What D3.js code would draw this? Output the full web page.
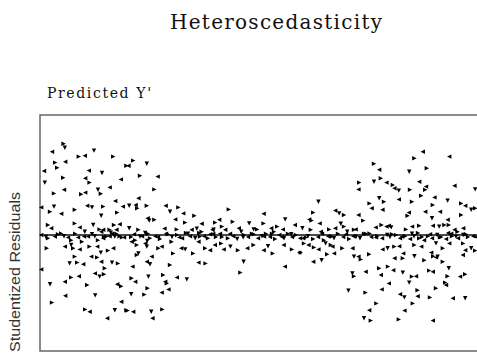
<!DOCTYPE html>
<html>
<head>
<meta charset="utf-8">
<script src="https://cdn.jsdelivr.net/npm/d3@7"></script>
<style>
body{margin:0;background:#fff;}
svg{display:block;}
</style>
</head>
<body>
<svg id="chart"></svg>
<script>
var width = 477, height = 353;
var titleText = "Heteroscedasticity";
var xLabel = "Predicted Y'";
var yLabel = "Studentized Residuals";

// predicted values (x) and studentized residuals (y)
var predY = [
5.9,3.0,6.2,3.8,6.3,9.7,11.2,13.5,18.3,1.0,4.3,12.2,15.5,5.8,11.3,12.4,20.2,1.2,3.5,6.0,10.3,11.3,14.5,15.2,17.4,21.6,
0.3,3.5,2.5,5.3,8.7,11.8,13.0,15.8,18.8,19.3,20.7,15.3,2.0,2.8,8.7,9.9,13.3,14.9,15.8,18.5,19.9,11.2,17.4,19.1,
2.0,3.7,6.0,7.8,9.5,10.5,12.0,13.7,14.5,15.8,16.6,17.4,18.7,19.9,21.0,5.3,15.3,17.7,19.1,0.3,
1.7,6.2,7.8,8.3,9.9,12.4,14.3,15.2,17.0,18.3,8.7,12.8,7.4,9.3,10.8,14.3,15.3,18.0,19.5,0.3,16.2,13.7,14.9,16.0,
6.2,7.8,9.7,2.5,11.8,19.3,20.3,6.3,13.8,3.0,20.3,11.3,12.4,18.7,21.6,16.8,
23.3,22.1,26.7,25.0,29.4,28.6,24.6,22.3,24.3,23.9,26.7,31.4,32.5,34.6,35.8,38.6,26.9,27.3,28.6,33.8,36.3,40.4,
22.3,24.6,31.1,34.2,37.9,39.2,40.4,43.1,
22.8,25.5,26.3,27.5,28.8,30.0,31.5,33.0,34.3,35.5,36.5,37.5,38.8,39.8,41.0,42.0,43.3,26.8,23.8,
22.9,24.2,26.3,26.7,29.6,30.4,32.9,35.3,36.3,38.3,39.6,41.3,42.5,24.6,24.2,27.9,33.3,26.7,27.5,32.5,39.6,41.4,
23.1,27.1,30.8,31.3,31.7,34.2,36.7,22.9,23.8,26.9,32.1,22.8,26.1,30.4,21.9,23.3,27.8,30.6,28.1,
47.2,55.9,61.3,43.8,44.8,48.2,49.7,52.3,55.9,63.7,45.5,46.3,53.4,54.3,57.8,59.3,60.7,43.4,
44.0,45.0,47.0,48.3,49.3,51.0,52.0,53.0,54.5,55.5,56.5,57.5,58.8,59.8,61.0,62.0,63.0,64.0,65.0,50.3,58.5,
43.7,45.3,45.9,47.6,49.5,51.8,53.4,55.9,57.0,58.2,60.9,63.0,64.8,50.9,50.1,61.2,
83.5,84.8,83.5,85.2,86.6,79.8,79.6,84.8,86.0,85.6,82.4,82.9,69.6,68.3,67.3,67.9,73.8,74.8,76.0,79.6,80.8,
69.9,75.2,76.0,83.9,85.4,86.6,65.6,67.7,70.2,72.3,73.8,76.8,78.5,78.9,82.4,
65.8,67.0,68.3,69.5,71.0,72.0,73.5,74.5,75.8,77.3,78.3,80.0,81.0,82.8,84.3,85.5,86.8,
66.0,67.1,68.5,69.6,71.4,72.7,73.1,65.2,68.3,70.4,71.8,73.5,75.6,78.1,78.5,80.2,79.6,82.3,85.6,
78.1,78.5,81.4,84.8,85.2,77.1,81.4,85.4,84.1,82.3,81.0,82.7,
95.7,93.6,102.3,92.3,96.7,94.8,88.2,88.6,89.7,92.5,96.5,96.3,103.6,108.8,95.3,89.7,93.0,98.6,101.9,105.3,106.3,
98.2,100.0,107.8,108.8,92.2,91.9,96.3,98.0,105.3,101.9,102.2,87.2,87.8,91.5,93.0,94.8,98.2,99.8,101.1,103.6,104.4,105.8,
87.5,89.0,90.0,91.3,92.5,93.5,94.8,96.0,97.0,98.0,99.3,100.3,101.5,103.0,104.5,105.8,107.0,108.3,94.5,102.0,
86.9,88.6,89.8,93.6,95.3,99.0,100.7,102.3,105.8,106.3,107.8,108.8,88.6,90.7,90.8,93.6,96.1,97.8,98.3,99.0,99.4,
100.7,105.7,87.0,88.3,90.7,93.0,94.0,97.3,98.2,102.2,101.9,105.0,106.3,87.2,92.3,101.3,101.5,99.0,90.0,91.1,
94.4,94.4,97.5,103.2,106.3,93.2,91.1,89.7,98.2,
// dense band right on the zero line
1.5,4.5,7.0,8.8,11.0,13.0,16.0,18.0,20.5,23.5,25.0,27.0,29.5,32.0,34.8,37.0,40.0,42.5,45.5,47.5,50.8,53.5,
56.0,58.0,60.5,62.8,66.5,70.5,73.0,76.5,79.0,81.5,84.0,88.0,90.5,93.0,95.5,97.5,100.0,102.8,104.0,106.5,109.0
];
var resid = [
2.28,2.08,2.18,1.81,1.83,1.96,1.98,2.11,1.96,1.60,1.68,1.61,1.55,1.43,1.42,1.31,1.39,1.31,1.04,1.13,1.02,1.06,1.13,1.03,1.19,1.73,
0.69,0.71,0.58,0.53,0.63,0.73,0.69,0.71,0.85,0.56,0.71,0.48,0.25,0.17,0.29,0.19,0.25,0.14,0.13,0.25,0.27,0.08,0.13,0.13,
-0.08,-0.04,-0.03,-0.13,-0.06,-0.17,-0.04,-0.03,-0.13,-0.08,-0.04,-0.03,-0.04,-0.03,-0.06,0.04,0.08,0.06,0.03,0.00,
-0.33,-0.29,-0.25,-0.33,-0.36,-0.29,-0.29,-0.44,-0.39,-0.33,-0.54,-0.54,-0.71,-0.69,-0.73,-0.56,-0.67,-0.69,-0.71,-0.86,-0.83,-0.96,-1.04,-0.98,
-1.17,-1.06,-1.03,-1.23,-1.25,-1.23,-1.28,-1.52,-1.51,-1.69,-1.67,-1.86,-1.92,-1.88,-1.88,-2.08,
1.86,1.73,1.78,1.48,1.46,1.14,0.92,0.73,0.67,0.75,0.73,0.73,0.58,0.69,0.54,0.48,0.42,0.36,0.38,0.39,0.31,0.28,
0.17,0.13,0.16,0.14,0.13,0.16,0.08,0.13,
-0.05,-0.03,0.05,-0.08,-0.03,-0.10,0.03,-0.05,0.00,-0.08,0.05,-0.03,-0.08,0.05,-0.03,-0.08,0.03,-0.15,-0.13,
-0.17,-0.25,-0.21,-0.29,-0.33,-0.29,-0.17,-0.33,-0.36,-0.46,-0.17,-0.33,-0.38,-0.46,-0.50,-0.54,-0.46,-0.67,-0.73,-0.75,-0.69,-0.71,
-0.79,-1.04,-1.00,-1.17,-1.21,-1.06,-1.11,-1.08,-1.17,-1.33,-1.36,-1.48,-1.49,-1.44,-1.89,-1.92,-1.92,-1.86,-2.08,
0.64,0.53,0.39,0.31,0.38,0.33,0.17,0.29,0.29,0.25,0.21,0.13,0.14,0.14,0.17,0.21,0.14,0.13,
-0.05,0.03,-0.08,-0.03,-0.10,0.00,-0.05,0.03,-0.08,-0.03,0.03,-0.05,-0.10,0.00,-0.08,0.03,-0.05,0.00,-0.08,0.08,0.08,
-0.25,-0.21,-0.36,-0.29,-0.38,-0.33,-0.25,-0.38,-0.28,-0.46,-0.25,-0.36,-0.44,-0.67,-0.94,-0.79,
1.78,1.63,1.33,1.42,1.31,1.31,1.14,0.92,0.83,0.63,0.79,0.67,0.83,0.56,0.39,0.36,0.61,0.54,0.50,0.50,0.36,
0.29,0.28,0.21,0.19,0.25,0.21,0.17,0.13,0.08,0.14,0.17,0.08,0.13,0.14,0.04,
-0.08,-0.03,-0.10,-0.05,-0.13,-0.03,-0.08,0.03,-0.05,-0.10,-0.03,-0.08,0.03,-0.05,-0.03,-0.08,0.00,
-0.21,-0.25,-0.31,-0.36,-0.21,-0.25,-0.29,-0.44,-0.67,-0.63,-0.48,-0.46,-0.33,-0.33,-0.54,-0.61,-0.54,-0.48,-0.36,
-0.96,-1.03,-0.92,-0.83,-1.00,-1.39,-1.44,-1.36,-1.71,-1.88,-2.08,-2.14,
2.08,1.92,1.96,1.58,1.67,1.33,1.25,1.17,1.11,1.13,1.21,1.13,1.23,1.14,0.98,0.89,0.83,0.94,0.86,0.79,0.73,
0.75,0.58,0.63,0.67,0.56,0.48,0.58,0.42,0.50,0.38,0.25,0.23,0.19,0.14,0.21,0.23,0.23,0.21,0.25,0.13,0.08,0.17,
-0.05,0.00,-0.08,-0.03,-0.10,-0.03,-0.08,-0.13,-0.03,-0.08,0.00,-0.05,-0.10,-0.03,-0.08,0.00,-0.05,-0.03,0.05,0.05,
-0.33,-0.29,-0.28,-0.25,-0.29,-0.21,-0.33,-0.21,-0.21,-0.38,-0.33,-0.39,-0.58,-0.58,-0.46,-0.53,-0.63,-0.44,-0.53,-0.56,-0.54,
-0.67,-0.50,-0.79,-0.88,-0.94,-1.04,-1.03,-0.89,-0.92,-0.83,-1.03,-1.04,-0.98,-1.21,-1.19,-1.19,-1.25,-1.33,-1.48,-1.56,
-1.38,-1.53,-1.56,-1.58,-1.58,-1.71,-1.89,-2.11,-2.14,
-0.05,0.02,-0.06,0.03,-0.04,0.02,-0.05,0.03,-0.06,0.02,-0.04,0.03,-0.05,0.02,-0.06,0.03,-0.04,0.02,-0.05,0.03,-0.06,0.02,
-0.04,0.03,-0.05,0.02,-0.06,0.03,-0.04,0.02,-0.05,0.03,-0.06,0.02,-0.04,0.03,-0.05,0.02,-0.06,0.03,-0.04,0.02,-0.05
];

var n = Math.min(predY.length, resid.length);
var points = [];
for (var i = 0; i < n; i++) {
	points.push({x: predY[i], y: resid[i]});
}

var svg = d3.select("#chart").attr("width", width).attr("height", height);

var x = d3.scaleLinear().domain([0, 110]).range([40, 480]);
var y = d3.scaleLinear().domain([-2.95, 3.0]).range([353, 115]);

// title
svg.append("text")
	.attr("x", 170).attr("y", 29)
	.attr("textLength", 212).attr("lengthAdjust", "spacing")
	.style("font-family", "'DejaVu Serif', serif")
	.style("font-size", "20px")
	.attr("fill", "#111")
	.text(titleText);

svg.append("text")
	.attr("x", 47).attr("y", 98)
	.attr("textLength", 104).attr("lengthAdjust", "spacing")
	.style("font-family", "'DejaVu Serif', serif")
	.style("font-size", "14px")
	.attr("fill", "#111")
	.text(xLabel);

svg.append("text")
	.attr("transform", "translate(20,272) rotate(-90)")
	.attr("text-anchor", "middle")
	.attr("textLength", 160).attr("lengthAdjust", "spacingAndGlyphs")
	.style("font-family", "'Liberation Sans Narrow', 'Liberation Sans', sans-serif")
	.style("font-size", "14px")
	.attr("fill", "#333")
	.text(yLabel);

// plot frame
svg.append("rect")
	.attr("x", x(0)).attr("y", y(3.0))
	.attr("width", x(110) - x(0) + 10)
	.attr("height", y(-2.95) - y(3.0) - 2)
	.attr("fill", "none")
	.attr("stroke", "#666")
	.attr("stroke-width", 1.5);

// zero line
svg.append("line")
	.attr("x1", x(0)).attr("x2", width)
	.attr("y1", y(0)).attr("y2", y(0))
	.attr("stroke", "#111")
	.attr("stroke-width", 1.6);

// little arrowhead marks, direction by index
var tri = "M-2.2,-2.2L2.2,0L-2.2,2.2Z";
svg.append("g").selectAll("path")
	.data(points)
	.enter()
	.append("path")
	.attr("d", tri)
	.attr("transform", function(d, i){
		var rot = [0, 180, 90, 0, 180][i % 5];
		return "translate(" + x(d.x) + "," + y(d.y) + ") rotate(" + rot + ")";
	})
	.attr("fill", "#000");
</script>
</body>
</html>
